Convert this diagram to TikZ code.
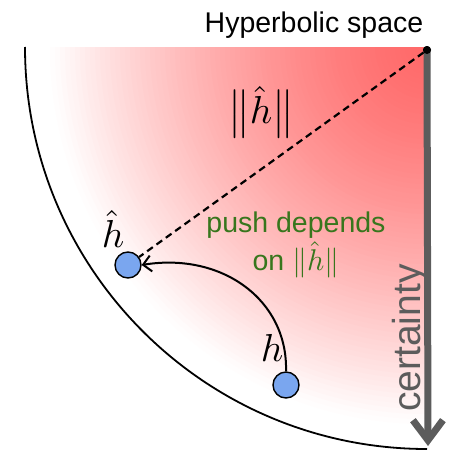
\documentclass[tikz,border=0pt]{standalone}
\usepackage{fontspec}
\setmainfont{Liberation Sans}
\usetikzlibrary{arrows.meta}
\definecolor{glow}{RGB}{255,105,105}
\definecolor{nodeblue}{RGB}{122,166,239}
\definecolor{pushgreen}{RGB}{56,118,29}
\definecolor{axisgray}{RGB}{92,92,92}
\begin{document}
\begin{tikzpicture}[x=1pt,y=-1pt,
  dotnode/.style={circle,draw=black,fill=nodeblue,line width=1.4pt,minimum size=26pt,inner sep=0pt},
  centerdot/.style={circle,fill=black,inner sep=0pt,minimum size=8pt},
  sanslabel/.style={font=\fontsize{28.5}{30}\selectfont,inner sep=0pt},
  mathlabel/.style={inner sep=0pt}]
\useasboundingbox (0,0) rectangle (450,450);
\coordinate (C) at (427,47);
\begin{scope}
  \clip (427,47) -- (25,47) arc[start angle=180,end angle=90,radius=402] -- cycle;
  \foreach \i in {0,...,80}{
    \pgfmathsetmacro\r{402-5*\i}
    \pgfmathsetmacro\p{max(0,min(100,100*(1-(\r/380)^1.4)))}
    \fill[glow!\p!white] (C) circle[radius=\r];
  }
\end{scope}
\draw[line width=1.8pt] (25,47) arc[start angle=180,end angle=90,radius=402];

\node[centerdot] (c) at (427,50) {};
\node[dotnode] (hh) at (128,265) {};
\node[dotnode] (h) at (286,385) {};
\coordinate (bottom) at (428,446);

\draw[axisgray,line width=7pt,-{Straight Barb[length=20pt,width=30pt]}] (c.center) -- (bottom);
\node[centerdot] at (c) {};
\draw[line width=2.2pt,dash pattern=on 7pt off 4.5pt] (c) -- (hh);
\draw[line width=2pt,-{Straight Barb[length=8pt,width=16pt]}] (h.north) .. controls (288,300) and (222,252) .. (hh.east);

\node[sanslabel,anchor=base] (title) at (314,32) {Hyperbolic space};
\node[sanslabel,anchor=base,rotate=90,text=axisgray,font=\fontsize{39}{42}\selectfont] (cert) at (420,338) {certainty};
\node[mathlabel] (norm) at (261,112) {\scalebox{3.9}{$\bigl\|\hat{h}\bigr\|$}};
\node[mathlabel] (hhlab) at (113,229) {\scalebox{3.9}{$\hat{h}$}};
\node[mathlabel] (hlab) at (272,348) {\scalebox{3.9}{$h$}};
\node[sanslabel,anchor=base,text=pushgreen] (push1) at (296,232) {push depends};
\node[sanslabel,anchor=base,text=pushgreen] (push2) at (296,270) {on \scalebox{3}{\normalsize$\|\hat{h}\|$}};
\end{tikzpicture}
\end{document}
